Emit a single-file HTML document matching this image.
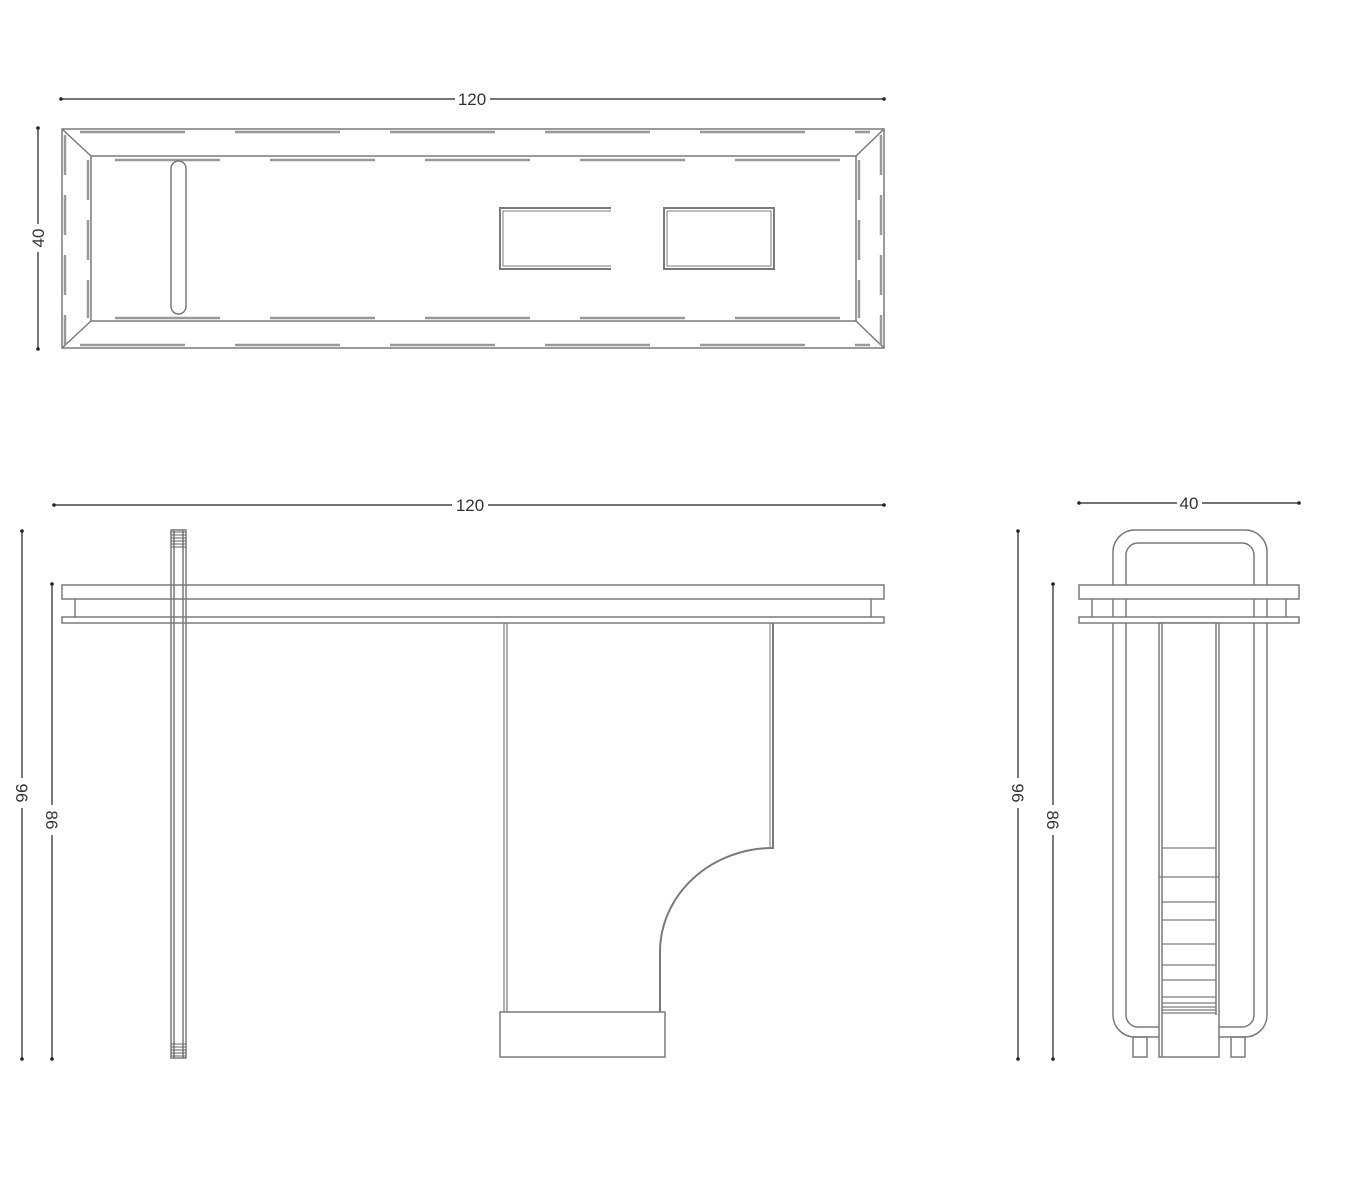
<!DOCTYPE html>
<html><head><meta charset="utf-8"><style>html,body{margin:0;padding:0;background:#fff}svg{display:block}</style></head>
<body>
<svg width="1350" height="1200" viewBox="0 0 1350 1200" xmlns="http://www.w3.org/2000/svg" font-family="Liberation Sans, sans-serif">
<g fill="none" stroke="#7a7a7a" stroke-width="1.5">
<!-- PLAN VIEW -->
<rect x="62" y="129" width="822" height="219"/>
<rect x="91" y="156" width="765" height="165"/>
<line x1="62" y1="129" x2="91" y2="156"/>
<line x1="884" y1="129" x2="856" y2="156"/>
<line x1="62" y1="348" x2="91" y2="321"/>
<line x1="884" y1="348" x2="856" y2="321"/>
<g stroke="#999" stroke-width="2.5" stroke-dasharray="105,50">
<line x1="80" y1="132" x2="870" y2="132"/>
<line x1="80" y1="345" x2="870" y2="345"/>
<line x1="95" y1="160" x2="852" y2="160" stroke-dashoffset="-20"/>
<line x1="95" y1="318" x2="852" y2="318" stroke-dashoffset="-20"/>
</g>
<g stroke="#999" stroke-width="2.5" stroke-dasharray="40,20">
<line x1="65" y1="135" x2="65" y2="345"/>
<line x1="881" y1="135" x2="881" y2="345"/>
<line x1="88" y1="160" x2="88" y2="318"/>
<line x1="859" y1="160" x2="859" y2="318"/>
</g>
<rect x="171" y="161" width="15" height="153" rx="7.5"/>
<path d="M611 208 H500 V269 H611" stroke-width="2"/>
<path d="M611 211 H503 V266 H611" stroke-width="1"/>
<rect x="664" y="208" width="110" height="61" stroke-width="2"/>
<rect x="667" y="211" width="104" height="55" stroke-width="1"/>

<!-- FRONT VIEW -->
<rect x="62" y="585" width="822" height="14" fill="#fff"/>
<line x1="75" y1="599" x2="75" y2="617"/>
<line x1="871" y1="599" x2="871" y2="617"/>
<rect x="62" y="617" width="822" height="6" fill="#fff"/>
<rect x="171" y="530" width="15" height="528"/>
<line x1="174" y1="530" x2="174" y2="1058"/>
<line x1="183" y1="530" x2="183" y2="1058"/>
<g stroke="#666" stroke-width="1">
<line x1="171" y1="532" x2="186" y2="532"/><line x1="171" y1="535" x2="186" y2="535"/><line x1="171" y1="538" x2="186" y2="538"/><line x1="171" y1="541" x2="186" y2="541"/><line x1="171" y1="544" x2="186" y2="544"/><line x1="171" y1="547" x2="186" y2="547"/>
<line x1="171" y1="1044" x2="186" y2="1044"/><line x1="171" y1="1047" x2="186" y2="1047"/><line x1="171" y1="1050" x2="186" y2="1050"/><line x1="171" y1="1053" x2="186" y2="1053"/><line x1="171" y1="1056" x2="186" y2="1056"/>
</g>
<path d="M504 623 V1012 M507 623 V1012" stroke-width="1.2"/>
<path d="M773 623 V848 A113 104 0 0 0 660 952 V1012" stroke-width="2"/>
<path d="M770 623 V848" stroke-width="1"/>
<rect x="500" y="1012" width="165" height="45"/>

<!-- SIDE VIEW -->
<rect x="1113" y="530" width="154" height="507" rx="22"/>
<rect x="1126" y="543" width="128" height="484" rx="12"/>
<rect x="1079" y="585" width="220" height="14" fill="#fff"/>
<line x1="1092" y1="599" x2="1092" y2="617"/>
<line x1="1286" y1="599" x2="1286" y2="617"/>
<rect x="1079" y="617" width="220" height="6" fill="#fff"/>
<rect x="1159" y="623" width="60" height="434" fill="#fff"/>
<line x1="1162" y1="623" x2="1162" y2="1057"/>
<line x1="1216" y1="623" x2="1216" y2="1015"/>
<g stroke-width="1.2">
<line x1="1162" y1="848" x2="1216" y2="848"/>
<line x1="1159" y1="877" x2="1219" y2="877"/>
<line x1="1162" y1="902" x2="1216" y2="902"/>
<line x1="1162" y1="920" x2="1216" y2="920"/>
<line x1="1162" y1="944" x2="1216" y2="944"/>
<line x1="1162" y1="965" x2="1216" y2="965"/>
<line x1="1162" y1="980" x2="1216" y2="980"/>
<line x1="1162" y1="997" x2="1216" y2="997"/>
<line x1="1162" y1="1003" x2="1216" y2="1003"/>
<line x1="1162" y1="1007" x2="1216" y2="1007"/>
<line x1="1162" y1="1010" x2="1216" y2="1010"/>
<line x1="1162" y1="1013" x2="1216" y2="1013"/>
</g>
<rect x="1133" y="1037" width="14" height="20"/>
<rect x="1231" y="1037" width="14" height="20"/>
</g>

<!-- DIMENSIONS -->
<g stroke="#222" stroke-width="1.2" fill="none">
<line x1="60" y1="99" x2="455" y2="99"/><line x1="490" y1="99" x2="885" y2="99"/>
<line x1="38" y1="127" x2="38" y2="224"/><line x1="38" y1="252" x2="38" y2="350"/>
<line x1="53" y1="505" x2="452" y2="505"/><line x1="488" y1="505" x2="885" y2="505"/>
<line x1="22" y1="530" x2="22" y2="778"/><line x1="22" y1="808" x2="22" y2="1060"/>
<line x1="52" y1="583" x2="52" y2="805"/><line x1="52" y1="835" x2="52" y2="1060"/>
<line x1="1078" y1="503" x2="1177" y2="503"/><line x1="1202" y1="503" x2="1300" y2="503"/>
<line x1="1018" y1="530" x2="1018" y2="778"/><line x1="1018" y1="808" x2="1018" y2="1060"/>
<line x1="1053" y1="583" x2="1053" y2="805"/><line x1="1053" y1="835" x2="1053" y2="1060"/>
</g>
<g fill="#222">
<circle cx="61" cy="99" r="1.8"/><circle cx="884" cy="99" r="1.8"/>
<circle cx="38" cy="128" r="1.8"/><circle cx="38" cy="349" r="1.8"/>
<circle cx="54" cy="505" r="1.8"/><circle cx="884" cy="505" r="1.8"/>
<circle cx="22" cy="531" r="1.8"/><circle cx="22" cy="1059" r="1.8"/>
<circle cx="52" cy="584" r="1.8"/><circle cx="52" cy="1059" r="1.8"/>
<circle cx="1079" cy="503" r="1.8"/><circle cx="1299" cy="503" r="1.8"/>
<circle cx="1018" cy="531" r="1.8"/><circle cx="1018" cy="1059" r="1.8"/>
<circle cx="1053" cy="584" r="1.8"/><circle cx="1053" cy="1059" r="1.8"/>
</g>
<g fill="#333" font-size="17" text-anchor="middle">
<text x="472" y="105">120</text>
<text x="470" y="511">120</text>
<text x="1189" y="509">40</text>
<text transform="translate(44,238) rotate(-90)">40</text>
<text transform="translate(16,793) rotate(90)">96</text>
<text transform="translate(46,820) rotate(90)">86</text>
<text transform="translate(1012,793) rotate(90)">96</text>
<text transform="translate(1047,820) rotate(90)">86</text>
</g>
</svg>
</body></html>
